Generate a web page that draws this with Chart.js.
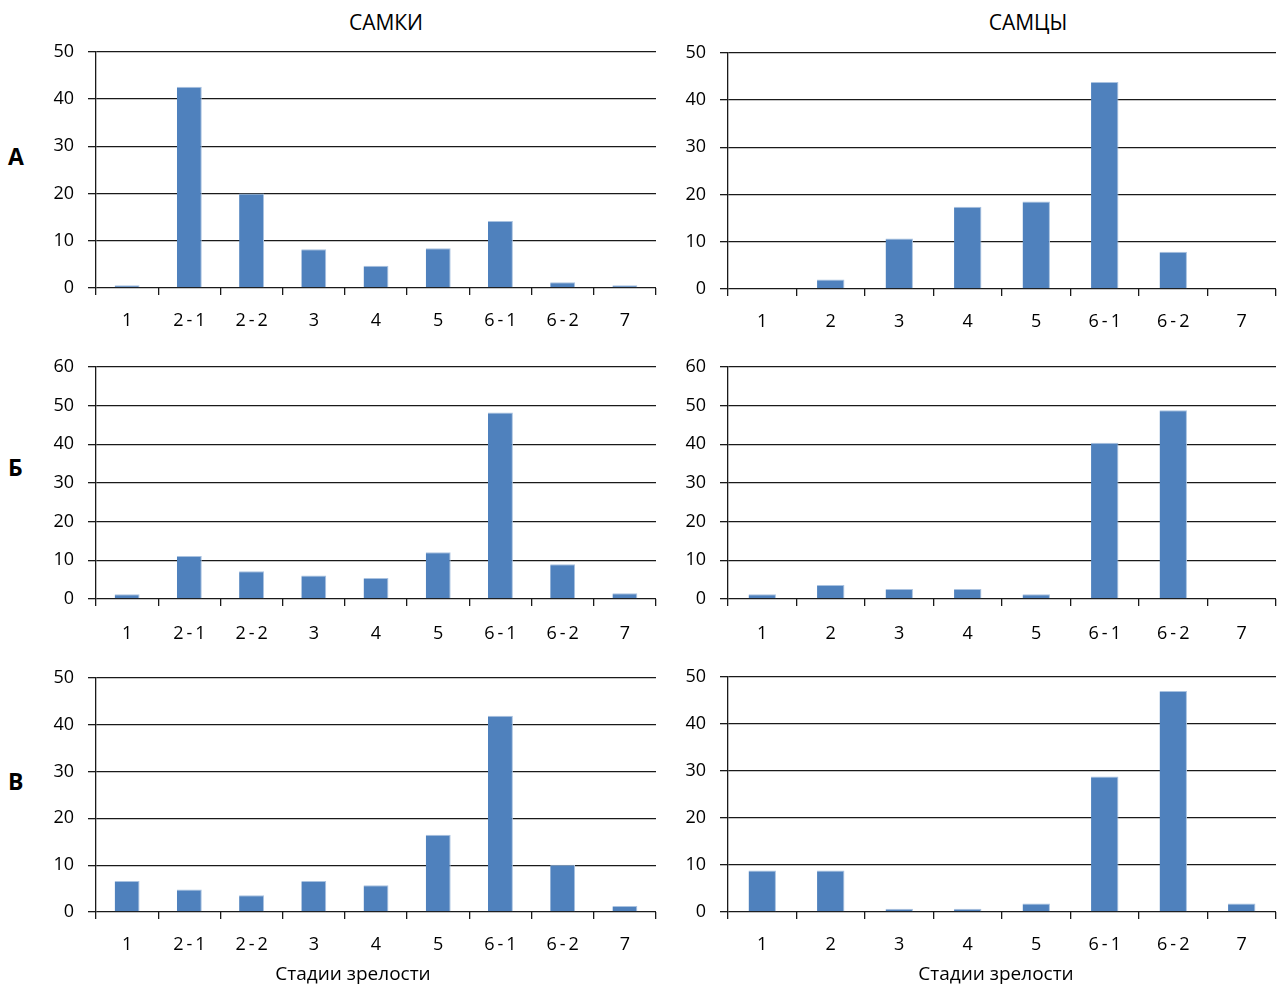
<!DOCTYPE html>
<html lang="ru">
<head>
<meta charset="utf-8">
<title>Стадии зрелости</title>
<script src="https://cdn.jsdelivr.net/npm/chart.js@4/dist/chart.umd.min.js"></script>
<style>
  html, body { margin: 0; padding: 0; background: #fff; }
  body { width: 1281px; height: 986px; position: relative; overflow: hidden;
         font-family: "Open Sans", "Noto Sans", sans-serif; color: #000; }
  canvas { position: absolute; }
  .col-title { position: absolute; top: 8px; font-size: 21px; line-height: 28px;
               transform: translateX(-50%); white-space: nowrap; }
  .axis-title { position: absolute; top: 960px; font-size: 19px; line-height: 26px;
                transform: translateX(-50%); white-space: nowrap; }
  .row-label { position: absolute; left: 8px; font-size: 23px; font-weight: bold;
               line-height: 28px; }
</style>
</head>
<body>
<div class="col-title" style="left:386px">САМКИ</div>
<div class="col-title" style="left:1028px">САМЦЫ</div>
<div class="row-label" style="top:142px">А</div>
<div class="row-label" style="top:453px">Б</div>
<div class="row-label" style="top:767px">В</div>

<canvas id="fA" width="630" height="306" style="left:40px;top:27px"></canvas>
<canvas id="mA" width="609" height="306" style="left:672px;top:28px"></canvas>
<canvas id="fB" width="630" height="302" style="left:40px;top:342px"></canvas>
<canvas id="mB" width="609" height="302" style="left:672px;top:342px"></canvas>
<canvas id="fV" width="630" height="333" style="left:40px;top:653px"></canvas>
<canvas id="mV" width="609" height="334" style="left:672px;top:652px"></canvas>

<div class="axis-title" style="left:353px" id="tF"></div>
<div class="axis-title" style="left:996px" id="tM"></div>

<script>
// Maturity stages (thin spaces around the dash in sub-stages)
const stagesFemale = ['1', '2\u2009-\u20091', '2\u2009-\u20092', '3', '4', '5', '6\u2009-\u20091', '6\u2009-\u20092', '7'];
const stagesMale   = ['1', '2', '3', '4', '5', '6\u2009-\u20091', '6\u2009-\u20092', '7'];

// Share of fish at each stage, %
const femaleA = [0.6, 42.6, 20.0, 8.2, 4.7, 8.4, 14.2, 1.2, 0.6];
const maleA   = [0, 2.0, 10.7, 17.4, 18.5, 43.8, 7.9, 0];
const femaleB = [1.2, 11.1, 7.2, 6.1, 5.4, 12.1, 48.2, 9.0, 1.5];
const maleB   = [1.2, 3.6, 2.6, 2.6, 1.2, 40.4, 48.8, 0];
const femaleV = [6.6, 4.8, 3.6, 6.6, 5.7, 16.5, 41.9, 10.1, 1.3];
const maleV   = [8.8, 8.8, 0.7, 0.7, 1.8, 28.8, 47.0, 1.8];

// Y-axis upper limits per row
const yMaxA = 50;
const yMaxB = 60;
const yMaxV = 50;

const axisTitle = 'Стадии зрелости';
document.getElementById('tF').textContent = axisTitle;
document.getElementById('tM').textContent = axisTitle;

const FONT = '"Open Sans", "Noto Sans", sans-serif';
const tickFont = { family: FONT, size: 18 };
const LINE = '#1a1a1a';

function makeChart(id, labels, values, yMax, padRight, xHeight, labelGap) {
  return new Chart(document.getElementById(id), {
    type: 'bar',
    data: {
      labels: labels,
      datasets: [{
        data: values,
        backgroundColor: '#4F81BD',
        borderColor: '#A9C2E0',
        borderWidth: { top: 1, right: 1, left: 0, bottom: 0 },
        borderSkipped: 'bottom',
        barPercentage: 0.4,
        categoryPercentage: 1
      }]
    },
    options: {
      responsive: false,
      animation: false,
      events: [],
      layout: { padding: { top: 0, right: padRight, left: 0, bottom: 0 } },
      plugins: { legend: { display: false }, tooltip: { enabled: false } },
      scales: {
        x: {
          offset: true,
          grid: { offset: true, drawOnChartArea: false, drawTicks: true,
                  tickLength: 7, color: LINE, lineWidth: 1.3 },
          border: { display: false },
          ticks: { font: tickFont, color: '#000', padding: labelGap,
                   maxRotation: 0, autoSkip: false },
          afterFit(scale) { scale.height = xHeight; }
        },
        y: {
          min: 0,
          max: yMax,
          ticks: { stepSize: 10, font: tickFont, color: '#000', padding: 14 },
          grid: { color: LINE, lineWidth: 1.3, tickLength: 8 },
          border: { display: true, color: LINE, width: 1.3 },
          afterFit(scale) { scale.width = 56; }
        }
      }
    }
  });
}

makeChart('fA', stagesFemale, femaleA, yMaxA, 14, 45, 15);
makeChart('mA', stagesMale,   maleA,   yMaxA, 5,  45, 15);
makeChart('fB', stagesFemale, femaleB, yMaxB, 14, 45, 17);
makeChart('mB', stagesMale,   maleB,   yMaxB, 5,  45, 17);
makeChart('fV', stagesFemale, femaleV, yMaxV, 14, 74, 15);
makeChart('mV', stagesMale,   maleV,   yMaxV, 5,  74, 15);
</script>
</body>
</html>
